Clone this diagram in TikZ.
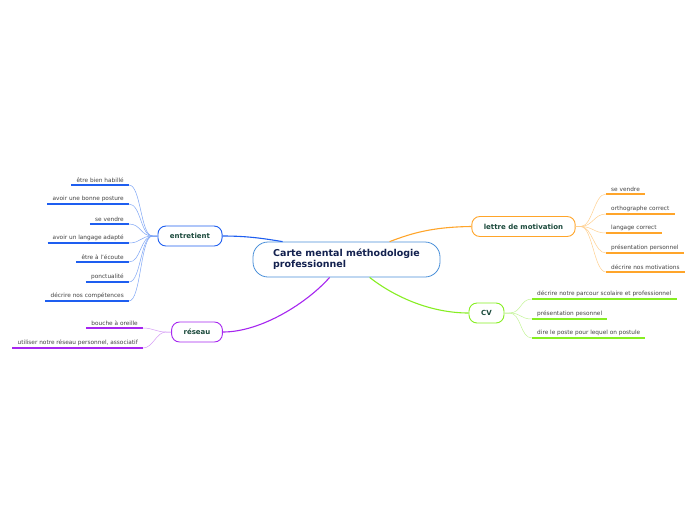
\documentclass[tikz,border=0pt]{standalone}
\usepackage{fontspec}
\setmainfont{DejaVu Sans}
\usetikzlibrary{calc}
\definecolor{mainblue}{HTML}{4A90D9}
\definecolor{navytext}{HTML}{13214F}
\definecolor{branchtext}{HTML}{1B4A3C}
\definecolor{leaftext}{HTML}{444444}
\definecolor{entblue}{HTML}{1E5EF0}
\definecolor{entlight}{HTML}{7FA6F6}
\definecolor{respurple}{HTML}{A626F0}
\definecolor{reslight}{HTML}{D59CF6}
\definecolor{letorange}{HTML}{FFA52A}
\definecolor{letlight}{HTML}{FFD08F}
\definecolor{cvgreen}{HTML}{86EE22}
\definecolor{cvlight}{HTML}{C4F598}
\tikzset{
    central/.style={rectangle, rounded corners=15pt, draw=mainblue, line width=0.8pt, fill=white, minimum width=187pt, minimum height=35pt, align=left, text=navytext, font=\fontsize{9.5}{11}\selectfont\bfseries},
    branch/.style={rectangle, rounded corners=8pt, line width=0.9pt, fill=white, minimum width=35pt, minimum height=20pt, inner xsep=12pt, text=branchtext, font=\fontsize{7}{8}\selectfont\bfseries},
    leafl/.style={anchor=south east, inner xsep=5pt, inner ysep=2pt, text=leaftext, font=\fontsize{5.8}{7}\selectfont},
    leafr/.style={leafl, anchor=south west},
    ul/.style={line width=1.7pt},
    twig/.style={line width=0.5pt},
    limb/.style={line width=1.1pt}
}
\begin{document}
\begin{tikzpicture}[x=1pt, y=-1pt]
    \useasboundingbox[fill=white] (0,0) rectangle (696,520);

    \node (main) [central] at (346.5,259.5) {Carte mental méthodologie\\professionnel};

    \node (ent) [branch, draw=entblue] at (190,236) {entretient};
    \node (res) [branch, draw=respurple] at (197,332) {réseau};
    \node (let) [branch, draw=letorange] at (523.5,226.5) {lettre de motivation};
    \node (cv) [branch, draw=cvgreen] at (486.5,313) {CV};

    % main branches
    \draw [limb, entblue] (ent.east) .. controls (250,236) and (266,239) .. ($(main.north west)+(30,0)$);
    \draw [limb, respurple] (res.east) .. controls (262,332) and (308,302) .. ($(main.south west)+(77,0)$);
    \draw [limb, letorange] (let.west) .. controls (430,227) and (410,234) .. ($(main.north west)+(137,0)$);
    \draw [limb, cvgreen] (cv.west) .. controls (432,313) and (396,298) .. ($(main.south west)+(117,0)$);

    % entretient
    \node (e1) [leafl] at (129,185) {être bien habillé};
    \node (e2) [leafl] at (129,204) {avoir une bonne posture};
    \node (e3) [leafl] at (129,224) {se vendre};
    \node (e4) [leafl] at (129,243) {avoir un langage adapté};
    \node (e5) [leafl] at (129,262) {être à l'écoute};
    \node (e6) [leafl] at (129,282) {ponctualité};
    \node (e7) [leafl] at (129,301) {décrire nos compétences};
    \foreach \n in {e1,e2,e3,e4,e5,e6,e7} {
        \draw [ul, entblue] (\n.south west) -- (\n.south east);
        \draw [twig, entlight] (ent.west) -- ++(-5,0) .. controls +(-12,0) and +(12,0) .. (\n.south east);
    }

    % reseau
    \node (r1) [leafl] at (143,328) {bouche à oreille};
    \node (r2) [leafl] at (143,348) {utiliser notre réseau personnel, associatif};
    \foreach \n in {r1,r2} {
        \draw [ul, respurple] (\n.south west) -- (\n.south east);
        \draw [twig, reslight] (res.west) -- ++(-5,0) .. controls +(-10,0) and +(10,0) .. (\n.south east);
    }

    % lettre de motivation
    \node (m1) [leafr] at (606,194) {se vendre};
    \node (m2) [leafr] at (606,214) {orthographe correct};
    \node (m3) [leafr] at (606,233) {langage correct};
    \node (m4) [leafr] at (606,253) {présentation personnel};
    \node (m5) [leafr] at (606,272) {décrire nos motivations};
    \foreach \n in {m1,m2,m3,m4,m5} {
        \draw [ul, letorange] (\n.south west) -- (\n.south east);
        \draw [twig, letlight] (let.east) -- ++(5,0) .. controls +(12,0) and +(-12,0) .. (\n.south west);
    }

    % CV
    \node (c1) [leafr] at (532,299) {décrire notre parcour scolaire et professionnel};
    \node (c2) [leafr] at (532,319) {présentation pesonnel};
    \node (c3) [leafr] at (532,338) {dire le poste pour lequel on postule};
    \foreach \n in {c1,c2,c3} {
        \draw [ul, cvgreen] (\n.south west) -- (\n.south east);
        \draw [twig, cvlight] (cv.east) -- ++(5,0) .. controls +(12,0) and +(-12,0) .. (\n.south west);
    }
\end{tikzpicture}
\end{document}
